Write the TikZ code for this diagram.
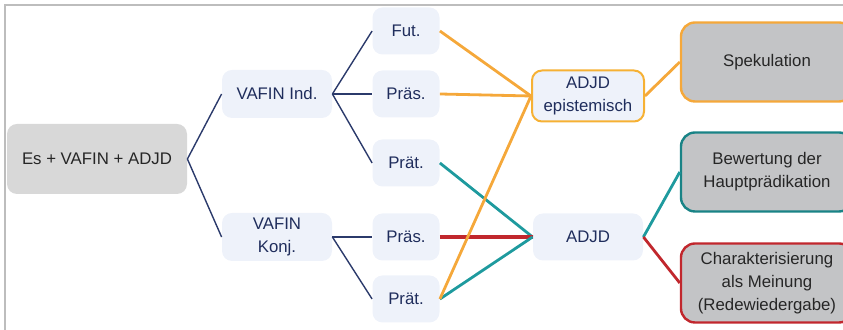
\documentclass[tikz,border=0pt]{standalone}
\usepackage{fontspec}
\setmainfont{Liberation Sans}
\usepackage{xcolor}
\usepackage{tikz}
\usetikzlibrary{positioning}

\definecolor{navyline}{HTML}{2B3A6B}
\definecolor{navytext}{HTML}{1F2D5C}
\definecolor{lightfill}{HTML}{EEF2FA}
\definecolor{rootfill}{HTML}{D8D8D8}
\definecolor{greyfill}{HTML}{C3C4C6}
\definecolor{orangeline}{HTML}{F5A83A}
\definecolor{tealline}{HTML}{1E9A9E}
\definecolor{redline}{HTML}{C1272D}
\definecolor{framegrey}{HTML}{BDBDBD}

\begin{document}
\begin{tikzpicture}[
  x=0.5pt, y=-0.5pt,
  every node/.style={font=\fontsize{8.4}{11.5}\selectfont, align=center, inner sep=0pt},
  light/.style={fill=lightfill, rounded corners=5pt, text=navytext, minimum height=24pt},
  small/.style={light, minimum width=33.5pt, minimum height=23.5pt},
  result/.style={draw, fill=greyfill, rounded corners=7pt, line width=1.2pt, minimum width=86pt, minimum height=39.5pt, text=black!85},
  tree/.style={draw=navyline, line width=0.7pt},
  link/.style={line width=1.4pt},
]

\clip (0,0) rectangle (843,330);
\draw[framegrey, line width=1.2pt] (5,340) -- (5,5) -- (850,5);

% left part
\node[fill=rootfill, rounded corners=5pt, minimum width=90pt, minimum height=35pt, text=black!85] (root) at (97,159) {Es + VAFIN + ADJD};
\node[light, minimum width=55pt] (ind) at (277,94) {VAFIN Ind.};
\node[light, minimum width=55pt] (konj) at (277,237) {VAFIN\\Konj.};

\node[small] (fut) at (406,31) {Fut.};
\node[small] (praesind) at (406,94) {Präs.};
\node[small] (praetind) at (406,163) {Prät.};
\node[small] (praeskonj) at (406,237) {Präs.};
\node[small] (praetkonj) at (406,299) {Prät.};

% middle
\node[light, draw=orangeline!90!yellow, line width=1pt, minimum width=56pt, minimum height=25.5pt] (epi) at (588,96) {ADJD\\epistemisch};
\node[light, minimum width=55pt, minimum height=23.5pt] (adjd) at (588,237) {ADJD};

% right
\node[result, draw=orangeline] (spek) at (767,62) {Spekulation};
\node[result, draw=tealline!85!black] (bew) at (767,172) {Bewertung der\\Hauptprädikation};
\node[result, draw=redline] (char) at (767,283) {Charakterisierung\\als Meinung\\(Redewiedergabe)};

\draw[tree] (root.east) -- (ind.west);
\draw[tree] (root.east) -- (konj.west);
\draw[tree] (ind.east) -- (fut.west);
\draw[tree] (ind.east) -- (praesind.west);
\draw[tree] (ind.east) -- (praetind.west);
\draw[tree] (konj.east) -- (praeskonj.west);
\draw[tree] (konj.east) -- (praetkonj.west);

\draw[link, orangeline] (fut.east) -- (epi.west);
\draw[link, orangeline] (praesind.east) -- (epi.west);
\draw[link, tealline] (praetind.east) -- (adjd.west);
\draw[link, redline, line width=2pt] (praeskonj.east) -- (adjd.west);
\draw[link, tealline] (praetkonj.east) -- (adjd.west);
\draw[link, orangeline] (praetkonj.east) -- (epi.west);

\draw[link, orangeline] (epi.east) -- (spek.west);
\draw[link, tealline] (adjd.east) -- (bew.west);
\draw[link, redline] (adjd.east) -- (char.west);

\end{tikzpicture}
\end{document}
